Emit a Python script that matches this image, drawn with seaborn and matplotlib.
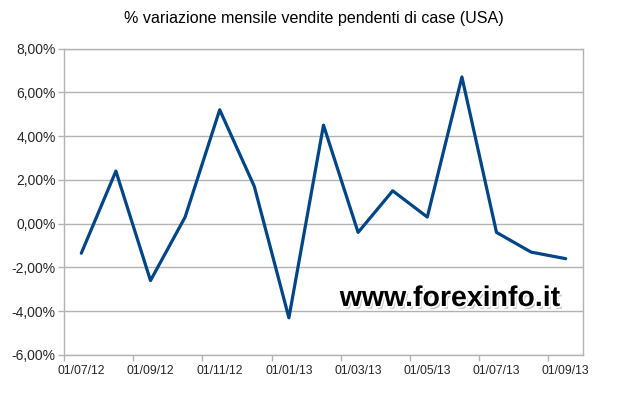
import matplotlib
matplotlib.use("Agg")
import matplotlib.pyplot as plt
import matplotlib.patheffects as pe
from matplotlib.ticker import FuncFormatter, FixedLocator
import seaborn as sns
import pandas as pd

months = ["01/07/12", "01/08/12", "01/09/12", "01/10/12", "01/11/12", "01/12/12",
          "01/01/13", "01/02/13", "01/03/13", "01/04/13", "01/05/13", "01/06/13",
          "01/07/13", "01/08/13", "01/09/13"]
values = [-1.35, 2.4, -2.6, 0.3, 5.2, 1.7, -4.3, 4.5, -0.4, 1.5, 0.3, 6.7, -0.4, -1.3, -1.6]
y_ticks = [-6, -4, -2, 0, 2, 4, 6, 8]
title = "% variazione mensile vendite pendenti di case (USA)"
watermark = "www.forexinfo.it"

sns.set_theme(style="white")
plt.rcParams['font.family'] = ['Liberation Sans', 'DejaVu Sans']

df = pd.DataFrame({"idx": range(len(months)), "value": values})

fig = plt.figure(figsize=(6.27, 3.97), dpi=100)
ax = fig.add_axes([64/627, 42/397, (583-64)/627, (355-48.5)/397])

sns.lineplot(data=df, x="idx", y="value", ax=ax, color="#004586", linewidth=2.3)

ax.set_xlim(-0.5, len(months) - 0.5)
ax.set_ylim(-6, 8)
ax.set_yticks(y_ticks)
ax.yaxis.set_major_formatter(FuncFormatter(lambda v, p: f"{v:.2f}%".replace(".", ",")))
ax.grid(axis="y", color="#b3b3b3", linewidth=1)
ax.set_axisbelow(True)

label_pos = list(range(0, len(months), 2))
ax.set_xticks(label_pos)
ax.set_xticklabels([months[i] for i in label_pos], fontsize=8.7)
ax.xaxis.set_minor_locator(FixedLocator([i - 0.5 for i in label_pos]))
ax.tick_params(axis="x", which="major", length=0, pad=7)
ax.tick_params(axis="x", which="minor", length=4, color="#b3b3b3", width=1, bottom=True)
ax.tick_params(axis="y", which="major", length=4, color="#b3b3b3", width=1, left=True, labelsize=10, pad=2)
for s in ax.spines.values():
    s.set_color("#b3b3b3")
    s.set_linewidth(1)

ax.set_xlabel("")
ax.set_ylabel("")

fig.text(0.5, 1 - 18/397, title, ha="center", va="center", fontsize=11.6, color="black")

fig.text(450/627, 1 - 299/397, watermark, ha="center", va="center",
         fontsize=20.5, fontweight="bold", color="black",
         path_effects=[pe.SimplePatchShadow(offset=(1.5, -2), shadow_rgbFace="#c4c4c4", alpha=1.0),
                       pe.Stroke(linewidth=2.5, foreground="white"),
                       pe.Normal()])

fig.savefig("out.png", dpi=100)
